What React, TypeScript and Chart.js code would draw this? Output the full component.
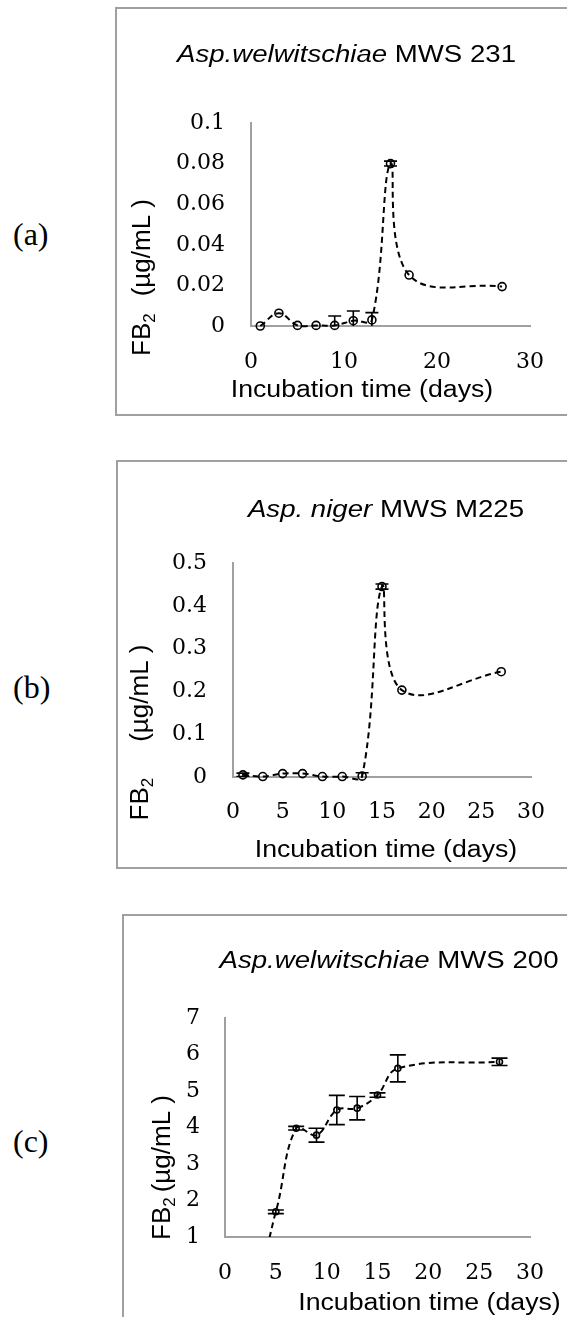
import React, { useEffect, useRef } from 'react';
import { Chart, registerables } from 'chart.js';

Chart.register(...registerables);

// ---------- Data ----------
// Panel (a) Asp.welwitschiae MWS 231
const daysA = [1, 3, 5, 7, 9, 11, 13, 15, 17, 27];
const fb2A = [0, 0.0063, 0.0003, 0.0003, 0.0003, 0.0026, 0.003, 0.08, 0.0251, 0.0194];
const errA = [0, 0, 0, 0, 0.0046, 0.0048, 0.0036, 0.0012, 0, 0];
const yTicksA = [0, 0.02, 0.04, 0.06, 0.08, 0.1];
const xTicksA = [0, 10, 20, 30];

// Panel (b) Asp. niger MWS M225
const daysB = [1, 3, 5, 7, 9, 11, 13, 15, 17, 27];
const fb2B = [0.005, 0.001, 0.008, 0.008, 0.001, 0.001, 0.002, 0.445, 0.203, 0.246];
const errB = [0.004, 0, 0, 0, 0, 0, 0.008, 0.006, 0, 0];
const yTicksB = [0, 0.1, 0.2, 0.3, 0.4, 0.5];
const xTicksB = [0, 5, 10, 15, 20, 25, 30];

// Panel (c) Asp.welwitschiae MWS 200
const daysC = [1, 3, 5, 7, 9, 11, 13, 15, 17, 27];
const fb2C = [0, 0, 1.69, 3.98, 3.79, 4.48, 4.53, 4.89, 5.62, 5.8];
const errC = [0, 0, 0.05, 0.05, 0.19, 0.4, 0.32, 0.06, 0.37, 0.1];
const yTicksC = [1, 2, 3, 4, 5, 6, 7];
const xTicksC = [0, 5, 10, 15, 20, 25, 30];

const xAxisTitle = 'Incubation time (days)';
const yTitleMain = 'FB';
const yTitleSub = '2';
const yTitleUnit = '(µg/mL )';

type Cfg = {
  days: number[];
  values: number[];
  errors: number[];
  yTicks: number[];
  xTicks: number[];
  yMin: number;
  yMax: number;
  canvas: { left: number; top: number; width: number; height: number };
  area: { left: number; right: number; top: number; bottom: number };
  yTickPad: number;
  xTickPad: number;
  titleItalic: string;
  titleRest: string;
  titleX: number;
  titleY: number;
  yTitleX: number;
  yTitleCY: number;
  yTitleGap: number;
  xTitleX: number;
  xTitleY: number;
  pointRadius: number;
  cap: number;
  clip: any;
};

const panels: Cfg[] = [
  {
    days: daysA, values: fb2A, errors: errA, yTicks: yTicksA, xTicks: xTicksA,
    yMin: 0, yMax: 0.1,
    canvas: { left: 116, top: 8, width: 451, height: 407 },
    area: { left: 135, right: 418, top: 115, bottom: 318 },
    yTickPad: 26, xTickPad: 23,
    titleItalic: 'Asp.welwitschiae', titleRest: ' MWS 231', titleX: 230.5, titleY: 54,
    yTitleX: 34, yTitleCY: 269.5, yTitleGap: 17,
    xTitleX: 246, xTitleY: 389,
    pointRadius: 4, cap: 6.5, clip: false,
  },
  {
    days: daysB, values: fb2B, errors: errB, yTicks: yTicksB, xTicks: xTicksB,
    yMin: 0, yMax: 0.5,
    canvas: { left: 117, top: 461, width: 450, height: 407 },
    area: { left: 116, right: 424, top: 102, bottom: 316 },
    yTickPad: 26, xTickPad: 22,
    titleItalic: 'Asp. niger', titleRest: ' MWS M225', titleX: 269, titleY: 56,
    yTitleX: 31, yTitleCY: 271.5, yTitleGap: 36,
    xTitleX: 269, xTitleY: 396,
    pointRadius: 4, cap: 6.5, clip: false,
  },
  {
    days: daysC, values: fb2C, errors: errC, yTicks: yTicksC, xTicks: xTicksC,
    yMin: 1, yMax: 7,
    canvas: { left: 123, top: 915, width: 444, height: 402 },
    area: { left: 102, right: 417, top: 103, bottom: 322 },
    yTickPad: 25, xTickPad: 23,
    titleItalic: 'Asp.welwitschiae', titleRest: ' MWS 200', titleX: 266, titleY: 53,
    yTitleX: 47, yTitleCY: 252.5, yTitleGap: 5,
    xTitleX: 306.5, xTitleY: 395,
    pointRadius: 3, cap: 8, clip: { left: 10, right: 10, top: 10, bottom: 0 },
  },
];

const SANS = '"Liberation Sans", Arial, sans-serif';
const SERIF = '"DejaVu Serif", serif';
const SX = 1.2;

function makeErrorPlugin(cfg: Cfg) {
  return {
    id: 'errorBars',
    afterDatasetsDraw(chart: any) {
      const { ctx, chartArea: ca } = chart;
      const meta = chart.getDatasetMeta(0);
      const ys = chart.scales.y;
      ctx.save();
      ctx.beginPath();
      ctx.rect(ca.left - 20, ca.top - 5, ca.right - ca.left + 40, ca.bottom - ca.top + 5);
      ctx.clip();
      ctx.strokeStyle = '#000';
      ctx.lineWidth = 1.6;
      ctx.setLineDash([]);
      meta.data.forEach((pt: any, i: number) => {
        const e = cfg.errors[i];
        if (!e) return;
        const v = cfg.values[i];
        const x = pt.x;
        const t = ys.getPixelForValue(v + e);
        const b = ys.getPixelForValue(v - e);
        ctx.beginPath();
        ctx.moveTo(x, t);
        ctx.lineTo(x, b);
        ctx.moveTo(x - cfg.cap, t);
        ctx.lineTo(x + cfg.cap, t);
        ctx.moveTo(x - cfg.cap, b);
        ctx.lineTo(x + cfg.cap, b);
        ctx.stroke();
      });
      ctx.restore();
    },
  };
}

function makeTextPlugin(cfg: Cfg) {
  return {
    id: 'panelText',
    afterDraw(chart: any) {
      const ctx = chart.ctx as CanvasRenderingContext2D;
      ctx.save();
      ctx.fillStyle = '#000';
      ctx.textBaseline = 'alphabetic';
      ctx.textAlign = 'left';
      const fi = `italic 23px ${SANS}`;
      const fn = `23px ${SANS}`;
      // Title
      ctx.font = fi;
      const w1 = ctx.measureText(cfg.titleItalic).width;
      ctx.font = fn;
      const w2 = ctx.measureText(cfg.titleRest).width;
      const tw = (w1 + w2) * SX;
      ctx.save();
      ctx.translate(cfg.titleX - tw / 2, cfg.titleY);
      ctx.scale(SX, 1);
      ctx.font = fi;
      ctx.fillText(cfg.titleItalic, 0, 0);
      ctx.font = fn;
      ctx.fillText(cfg.titleRest, w1, 0);
      ctx.restore();
      // X title
      ctx.font = fn;
      const xw = ctx.measureText(xAxisTitle).width * 1.16;
      ctx.save();
      ctx.translate(cfg.xTitleX - xw / 2, cfg.xTitleY);
      ctx.scale(1.16, 1);
      ctx.fillText(xAxisTitle, 0, 0);
      ctx.restore();
      // Y title (rotated)
      const fy = `26px ${SANS}`;
      const fs = `17px ${SANS}`;
      ctx.font = fy;
      const a = ctx.measureText(yTitleMain).width;
      const c = ctx.measureText(yTitleUnit).width;
      ctx.font = fs;
      const b = ctx.measureText(yTitleSub).width;
      const total = a + b + cfg.yTitleGap + c;
      ctx.save();
      ctx.translate(cfg.yTitleX, cfg.yTitleCY);
      ctx.rotate(-Math.PI / 2);
      let x = -total / 2;
      ctx.font = fy;
      ctx.fillText(yTitleMain, x, 0);
      x += a;
      ctx.font = fs;
      ctx.fillText(yTitleSub, x, 5);
      x += b + cfg.yTitleGap;
      ctx.font = fy;
      ctx.fillText(yTitleUnit, x, 0);
      ctx.restore();
      ctx.restore();
    },
  };
}

function Panel({ cfg }: { cfg: Cfg }) {
  const ref = useRef<HTMLCanvasElement>(null);
  useEffect(() => {
    const canvas = ref.current;
    if (!canvas) return;
    const tickFont = { family: SERIF, size: 22 };
    const chart = new Chart(canvas, {
      type: 'line',
      data: {
        datasets: [
          {
            data: cfg.days.map((d, i) => ({ x: d, y: cfg.values[i] })),
            borderColor: '#000',
            borderWidth: 2,
            borderDash: [6, 4],
            tension: 0.4,
            fill: false,
            pointRadius: cfg.pointRadius,
            pointBorderWidth: 1.6,
            pointBorderColor: '#000',
            pointBackgroundColor: 'rgba(0,0,0,0)',
            clip: cfg.clip,
          } as any,
        ],
      },
      options: {
        responsive: false,
        animation: false,
        devicePixelRatio: 1,
        events: [],
        elements: { line: { capBezierPoints: false } },
        layout: {
          padding: {
            left: 0,
            top: cfg.area.top,
            right: cfg.canvas.width - cfg.area.right,
            bottom: 0,
          },
        },
        plugins: {
          legend: { display: false },
          tooltip: { enabled: false },
          title: { display: false },
        },
        scales: {
          x: {
            type: 'linear',
            min: 0,
            max: 30,
            afterBuildTicks: (s: any) => {
              s.ticks = cfg.xTicks.map((v) => ({ value: v }));
            },
            afterFit: (s: any) => {
              s.height = cfg.canvas.height - cfg.area.bottom;
            },
            grid: { display: false, drawTicks: false },
            border: { display: true, color: '#a0a0a0', width: 2 },
            ticks: {
              font: tickFont,
              color: '#000',
              padding: cfg.xTickPad,
              autoSkip: false,
              maxRotation: 0,
              callback: (v: any) => String(v),
            },
          },
          y: {
            type: 'linear',
            min: cfg.yMin,
            max: cfg.yMax,
            afterBuildTicks: (s: any) => {
              s.ticks = cfg.yTicks.map((v) => ({ value: v }));
            },
            afterFit: (s: any) => {
              s.width = cfg.area.left;
            },
            grid: { display: false, drawTicks: false },
            border: { display: true, color: '#a0a0a0', width: 2 },
            ticks: {
              font: tickFont,
              color: '#000',
              padding: cfg.yTickPad,
              autoSkip: false,
              callback: (v: any) => String(v),
            },
          },
        },
      } as any,
      plugins: [makeErrorPlugin(cfg), makeTextPlugin(cfg)],
    });
    return () => chart.destroy();
  }, [cfg]);
  return (
    <canvas
      ref={ref}
      width={cfg.canvas.width}
      height={cfg.canvas.height}
      style={{
        position: 'absolute',
        left: cfg.canvas.left,
        top: cfg.canvas.top,
        width: cfg.canvas.width,
        height: cfg.canvas.height,
      }}
    />
  );
}

const boxes = [
  { left: 115, top: 7, width: 470, height: 409 },
  { left: 116, top: 460, width: 470, height: 409 },
  { left: 122, top: 914, width: 470, height: 500 },
];

const panelLabels = [
  { text: '(a)', left: 13, top: 218 },
  { text: '(b)', left: 13, top: 671 },
  { text: '(c)', left: 13, top: 1125 },
];

export default function App() {
  return (
    <div
      style={{
        position: 'absolute',
        left: 0,
        top: 0,
        width: 567,
        height: 1317,
        overflow: 'hidden',
        background: '#fff',
      }}
    >
      {boxes.map((b, i) => (
        <div
          key={'box' + i}
          style={{
            position: 'absolute',
            left: b.left,
            top: b.top,
            width: b.width,
            height: b.height,
            border: '2px solid #a0a0a0',
            boxSizing: 'border-box',
          }}
        />
      ))}
      {panelLabels.map((l, i) => (
        <div
          key={'lab' + i}
          style={{
            position: 'absolute',
            left: l.left,
            top: l.top,
            fontFamily: '"Liberation Serif", serif',
            fontSize: 32,
            lineHeight: '32px',
            color: '#000',
          }}
        >
          {l.text}
        </div>
      ))}
      {panels.map((p, i) => (
        <Panel key={'p' + i} cfg={p} />
      ))}
    </div>
  );
}
